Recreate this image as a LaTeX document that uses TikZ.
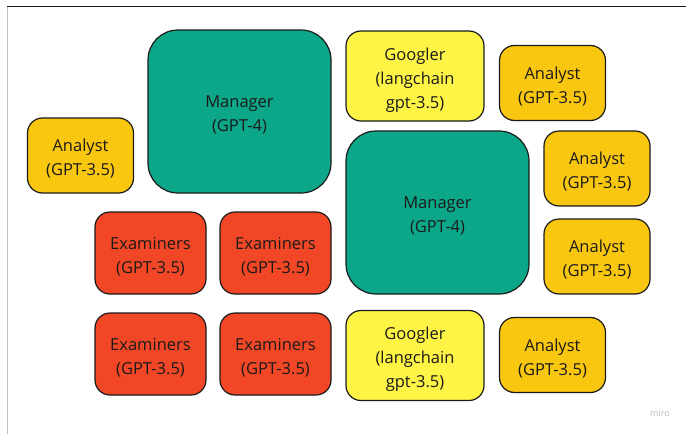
\documentclass[tikz,border=0pt]{standalone}
\usepackage{fontspec}
\setmainfont{Open Sans}
\definecolor{teal}{HTML}{0CA789}
\definecolor{lemon}{HTML}{FEF445}
\definecolor{amber}{HTML}{FAC710}
\definecolor{tomato}{HTML}{F24726}
\definecolor{ink}{HTML}{1A1A1A}
% card text, lowered a little inside its box
\newcommand\cardtext[1]{\raisebox{-3.5pt}[\height][\depth]{\begin{tabular}{@{}c@{}}#1\end{tabular}}}
\tikzset{
  card/.style={rectangle,draw=ink,line width=1.2pt,rounded corners=15pt,
    inner sep=0pt,text=ink,
    font=\fontsize{16.5}{24}\selectfont},
  manager/.style={card,fill=teal,rounded corners=30pt,
    minimum width=183pt,minimum height=163pt},
  googler/.style={card,fill=lemon,minimum width=138pt,minimum height=90pt},
  analyst/.style={card,fill=amber,minimum width=106pt,minimum height=75pt},
  examiner/.style={card,fill=tomato,minimum width=111pt,minimum height=82pt}
}
\begin{document}
\begin{tikzpicture}[x=1pt,y=-1pt]
        \useasboundingbox (0,0) rectangle (686,434);

        % frame
        \draw[ink,line width=1.5pt] (7,6.5) -- (686,6.5);
        \draw[gray!50,line width=1pt] (7,6.5) -- (7,434);

        \node[manager]  (m1) at (239.5,111.5) {\cardtext{Manager\\(GPT-4)}};
        \node[manager]  (m2) at (437.5,212.5) {\cardtext{Manager\\(GPT-4)}};

        \node[googler]  (g1) at (415,76)    {\cardtext{Googler\\(langchain\\gpt-3.5)}};
        \node[googler]  (g2) at (415,355.5) {\cardtext{Googler\\(langchain\\gpt-3.5)}};

        \node[analyst]  (a1) at (552.5,83)  {\cardtext{Analyst\\(GPT-3.5)}};
        \node[analyst]  (a2) at (80.5,155.5) {\cardtext{Analyst\\(GPT-3.5)}};
        \node[analyst]  (a3) at (597,168.5) {\cardtext{Analyst\\(GPT-3.5)}};
        \node[analyst]  (a4) at (597,256.5) {\cardtext{Analyst\\(GPT-3.5)}};
        \node[analyst]  (a5) at (552.5,355) {\cardtext{Analyst\\(GPT-3.5)}};

        \node[examiner] (e1) at (150.5,253) {\cardtext{Examiners\\(GPT-3.5)}};
        \node[examiner] (e2) at (275.5,253) {\cardtext{Examiners\\(GPT-3.5)}};
        \node[examiner] (e3) at (150.5,354) {\cardtext{Examiners\\(GPT-3.5)}};
        \node[examiner] (e4) at (275.5,354) {\cardtext{Examiners\\(GPT-3.5)}};

        \node[text=gray!55,font=\fontsize{9}{10}\selectfont] (miro) at (660,413) {miro};

\end{tikzpicture}
\end{document}
